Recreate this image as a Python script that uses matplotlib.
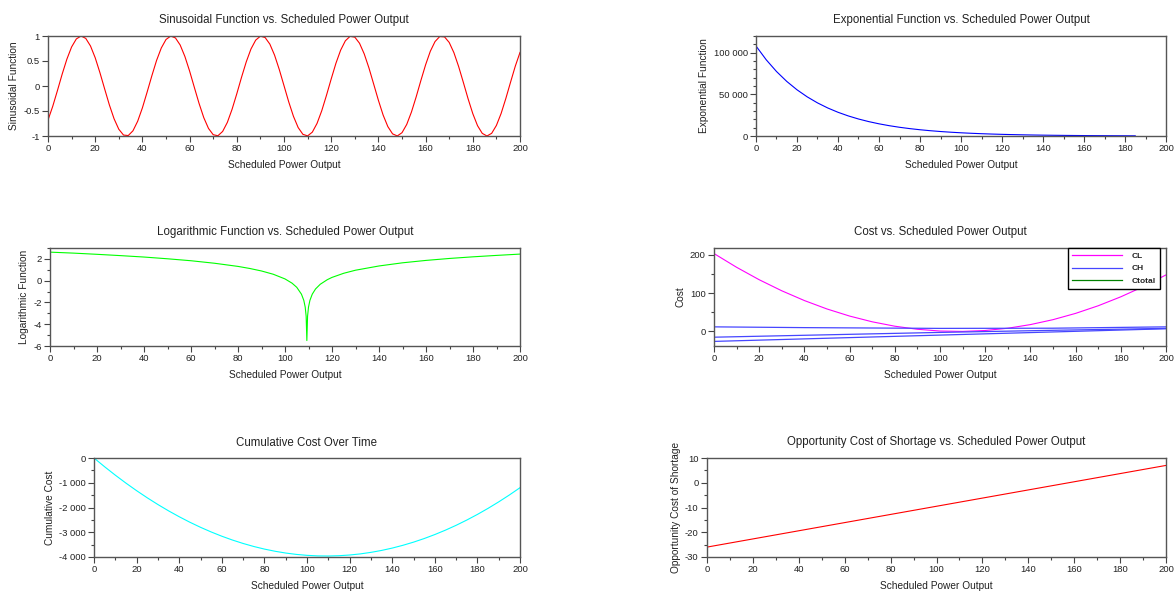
import matplotlib
matplotlib.use("Agg")
import matplotlib.pyplot as plt
from matplotlib.ticker import MultipleLocator, FuncFormatter
from matplotlib.lines import Line2D

plt.rcParams['font.family'] = ['Liberation Sans', 'DejaVu Sans']
plt.rcParams['axes.unicode_minus'] = False

# x grid shared by most panels (Scheduled Power Output)
x_sin = list(range(0, 201, 2))
sin_vals = [-0.681, -0.407, -0.091, 0.237, 0.537, 0.781, 0.941, 1.000, 0.952, 0.801,
            0.565, 0.267, -0.058, -0.378, -0.656, -0.865, -0.981, -0.991, -0.896, -0.704,
            -0.437, -0.122, 0.204, 0.511, 0.760, 0.930, 0.999, 0.961, 0.820, 0.591,
            0.299, -0.026, -0.347, -0.632, -0.848, -0.974, -0.995, -0.909, -0.727, -0.465,
            -0.155, 0.174, 0.482, 0.740, 0.917, 0.997, 0.969, 0.838, 0.617, 0.329,
            0.007, -0.317, -0.606, -0.831, -0.966, -0.998, -0.923, -0.748, -0.494, -0.186,
            0.141, 0.454, 0.717, 0.904, 0.994, 0.977, 0.855, 0.641, 0.360, 0.038,
            -0.286, -0.581, -0.812, -0.957, -0.999, -0.934, -0.769, -0.521, -0.218, 0.110,
            0.424, 0.695, 0.889, 0.990, 0.983, 0.871, 0.666, 0.389, 0.071, -0.255,
            -0.553, -0.793, -0.947, -1.000, -0.946, -0.789, -0.549, -0.249, 0.077, 0.396,
            0.671]

x_exp = list(range(0, 186, 5))
exp_vals = [108000, 91420, 77390, 65510, 55450, 46940, 39730, 33630, 28470, 24100,
            20400, 17270, 14620, 12370, 10470, 8865, 7505, 6353, 5377, 4552,
            3853, 3262, 2761, 2337, 1978, 1675, 1418, 1200, 1016, 860,
            728, 616, 521, 441, 374, 316, 268, 227]

x_log = [0, 10, 20, 30, 40, 50, 60, 70, 80, 85, 90, 95, 100, 103, 105, 107, 108, 108.6,
         109.0, 109.3, 109.6, 110, 110.6, 111.6, 113, 115, 118, 120, 125, 130, 140, 150,
         160, 170, 180, 190, 200]
log_vals = [2.62, 2.53, 2.42, 2.30, 2.17, 2.01, 1.83, 1.60, 1.31, 1.12, 0.89, 0.59, 0.16,
            -0.23, -0.61, -1.24, -1.81, -2.43, -3.27, -5.5, -3.27, -2.43, -1.81, -1.24,
            -0.76, -0.33, 0.09, 0.30, 0.68, 0.96, 1.35, 1.64, 1.86, 2.04, 2.19, 2.32, 2.44]

x_cost = list(range(0, 201, 10))
CL = [203.5, 167.6, 135.1, 106.2, 80.7, 58.7, 40.2, 25.2, 13.7, 5.7, 1.1,
      0.1, 2.5, 8.4, 17.9, 30.8, 47.2, 67.1, 90.5, 117.3, 147.7]
x_ch = [0, 40, 100, 150, 200]
CH_a = [12.0, 10.0, 8.0, 8.5, 12.0]
CH_b = [-15.0, -10.0, -2.5, 3.0, 8.0]
CH_c = [-26.0, -19.4, -9.5, -1.3, 7.0]

x_cum = list(range(0, 201, 5))
cum_vals = [0, -355, -693, -1015, -1320, -1608, -1880, -2135, -2373, -2595,
            -2800, -2988, -3160, -3315, -3453, -3575, -3680, -3768, -3840, -3895,
            -3933, -3955, -3960, -3948, -3920, -3875, -3813, -3735, -3640, -3528,
            -3400, -3255, -3093, -2915, -2720, -2508, -2280, -2035, -1773, -1495,
            -1200]

x_opp = [0, 50, 100, 150, 200]
opp_vals = [-26.0, -17.75, -9.5, -1.25, 7.0]

W, H = 1174, 594
fig = plt.figure(figsize=(W / 100, H / 100), dpi=100)


def box(left, right, top, bottom):
    return [left / W, 1 - bottom / H, (right - left) / W, (bottom - top) / H]


def fmt(v, pos):
    if abs(v - round(v)) < 1e-9:
        return f"{int(round(v)):,}".replace(",", " ")
    return f"{v:g}"


def style(ax, title, ylabel, ylim, ymaj, ymin):
    ax.set_xlim(0, 200)
    ax.set_ylim(*ylim)
    ax.xaxis.set_major_locator(MultipleLocator(20))
    ax.xaxis.set_minor_locator(MultipleLocator(10))
    ax.yaxis.set_major_locator(MultipleLocator(ymaj))
    ax.yaxis.set_minor_locator(MultipleLocator(ymin))
    ax.yaxis.set_major_formatter(FuncFormatter(fmt))
    ax.tick_params(which='both', direction='out', labelsize=6.8,
                   colors='#444444', labelcolor='#222222', pad=2)
    ax.tick_params(which='major', length=4, width=0.8)
    ax.tick_params(which='minor', length=2, width=0.8)
    for s in ax.spines.values():
        s.set_color('#555555')
        s.set_linewidth(1.0)
    ax.set_title(title, fontsize=8.3, color='#222222', pad=9)
    ax.set_xlabel('Scheduled Power Output', fontsize=7.3, color='#222222', labelpad=5)
    ax.set_ylabel(ylabel, fontsize=7.3, color='#222222', labelpad=3)


ax1 = fig.add_axes(box(48, 520, 36, 136))
ax1.plot(x_sin, sin_vals, color='#ff0000', lw=0.8)
style(ax1, 'Sinusoidal Function vs. Scheduled Power Output', 'Sinusoidal Function',
      (-1, 1), 0.5, 0.5)

ax2 = fig.add_axes(box(756, 1166, 36, 136))
ax2.plot(x_exp, exp_vals, color='#0000ff', lw=0.8)
style(ax2, 'Exponential Function vs. Scheduled Power Output', 'Exponential Function',
      (0, 120000), 50000, 10000)

ax3 = fig.add_axes(box(50, 520, 248, 346))
ax3.plot(x_log, log_vals, color='#00ff00', lw=0.8)
style(ax3, 'Logarithmic Function vs. Scheduled Power Output', 'Logarithmic Function',
      (-6, 3), 2, 1)

ax4 = fig.add_axes(box(714, 1166, 248, 346))
ax4.plot(x_cost, CL, color='#ff00ff', lw=0.8)
for ch in (CH_a, CH_b, CH_c):
    ax4.plot(x_ch, ch, color='#4646ff', lw=0.9)
style(ax4, 'Cost vs. Scheduled Power Output', 'Cost', (-38, 218), 100, 50)
handles = [Line2D([], [], color='#ff00ff', lw=0.9),
           Line2D([], [], color='#4646ff', lw=0.9),
           Line2D([], [], color='#008000', lw=0.9)]
leg = ax4.legend(handles, ['CL', 'CH', 'Ctotal'], loc='upper right',
                 bbox_to_anchor=(0.987, 1.0), fontsize=6.0, fancybox=False,
                 edgecolor='black', framealpha=1, handlelength=6.0,
                 borderaxespad=0, labelspacing=0.55, borderpad=0.5,
                 handletextpad=1.2)
leg.get_frame().set_linewidth(1.0)
for t in leg.get_texts():
    t.set_fontweight('bold')
    t.set_color('#222222')

ax5 = fig.add_axes(box(94, 520, 458, 557))
ax5.plot(x_cum, cum_vals, color='#00ffff', lw=0.8)
style(ax5, 'Cumulative Cost Over Time', 'Cumulative Cost', (-4000, 0), 1000, 500)

ax6 = fig.add_axes(box(707, 1166, 458, 557))
ax6.plot(x_opp, opp_vals, color='#ff0000', lw=0.8)
style(ax6, 'Opportunity Cost of Shortage vs. Scheduled Power Output',
      'Opportunity Cost of Shortage', (-30, 10), 10, 5)

fig.savefig('out.png', dpi=100)
